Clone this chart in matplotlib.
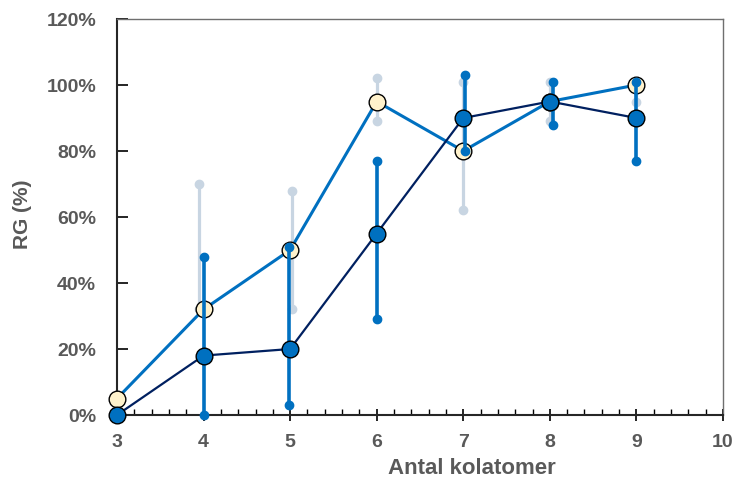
import numpy as np
import matplotlib.pyplot as plt
from matplotlib.ticker import MultipleLocator, FuncFormatter

plt.rcParams['font.family'] = ['Liberation Sans', 'DejaVu Sans']

# data
x = [3, 4, 5, 6, 7, 8, 9]
# serie 1 (ljusblå linje, ljusgula punkter)
rg1 = [5, 32, 50, 95, 80, 95, 100]
rg1_lo = [5, 32, 32, 89, 62, 89, 95]
rg1_hi = [5, 70, 68, 102, 101, 101, 101]
x1_err = [3, 3.95, 5.02, 6.0, 7.0, 8.0, 9.0]
# serie 2 (mörkblå linje, blå punkter)
rg2 = [0, 18, 20, 55, 90, 95, 90]
rg2_lo = [0, 0, 3, 29, 80, 88, 77]
rg2_hi = [0, 48, 51, 77, 103, 101, 101]
x2_err = [3, 4.01, 4.99, 6.0, 7.02, 8.04, 9.0]

c_light = '#0070C0'
c_navy = '#002060'
c_gray = '#C8D5E2'
c_cream = '#FFF2CC'
c_text = '#595959'

fig = plt.figure(figsize=(7.37, 4.81), dpi=100)
ax = fig.add_axes([117/737, 65/481, 606/737, 396/481])

# grå felstaplar (serie 1)
for xi, lo, hi in zip(x1_err[1:], rg1_lo[1:], rg1_hi[1:]):
    ax.plot([xi, xi], [lo, hi], color=c_gray, lw=2.3, solid_capstyle='butt', zorder=1)
    ax.plot([xi, xi], [lo, hi], 'o', color=c_gray, ms=6, zorder=1, clip_on=False)

ax.plot(x, rg1, color=c_light, lw=2.2, zorder=2)
ax.plot(x, rg1, 'o', mfc=c_cream, mec='black', mew=1.0, ms=12, zorder=3, clip_on=False)

ax.plot(x, rg2, color=c_navy, lw=1.6, zorder=4)

# blå felstaplar (serie 2)
for xi, lo, hi in zip(x2_err[1:], rg2_lo[1:], rg2_hi[1:]):
    ax.plot([xi, xi], [lo, hi], color=c_light, lw=2.6, solid_capstyle='butt', zorder=5)
    ax.plot([xi, xi], [lo, hi], 'o', color=c_light, ms=6, zorder=5, clip_on=False)

ax.plot(x, rg2, 'o', mfc=c_light, mec='black', mew=1.0, ms=12, zorder=6, clip_on=False)

ax.set_xlim(3, 10)
ax.set_ylim(0, 120)
ax.xaxis.set_major_locator(MultipleLocator(1))
ax.xaxis.set_minor_locator(MultipleLocator(0.2))
ax.yaxis.set_major_locator(MultipleLocator(20))
ax.yaxis.set_major_formatter(FuncFormatter(lambda v, p: '%d%%' % v))

ax.tick_params(axis='x', which='major', direction='inout', length=8, width=1.2,
               pad=9, labelsize=14, labelcolor=c_text)
ax.tick_params(axis='x', which='minor', direction='in', length=4, width=1.0)
ax.tick_params(axis='y', which='major', direction='in', length=8, width=1.2,
               pad=15, labelsize=14, labelcolor=c_text)
for lab in ax.get_xticklabels() + ax.get_yticklabels():
    lab.set_fontweight('bold')

for s in ['left', 'bottom']:
    ax.spines[s].set_color('#262626')
    ax.spines[s].set_linewidth(1.5)
for s in ['top', 'right']:
    ax.spines[s].set_color('#6f6f6f')
    ax.spines[s].set_linewidth(1.0)

fig.text(472/737, 1 - 474/481, 'Antal kolatomer', ha='center', va='baseline',
         fontsize=16, fontweight='bold', color=c_text)
fig.text(22/737, 1 - 214/481, 'RG (%)', ha='center', va='center', rotation=90,
         fontsize=15, fontweight='bold', color=c_text)

fig.savefig('out.png', dpi=100)
